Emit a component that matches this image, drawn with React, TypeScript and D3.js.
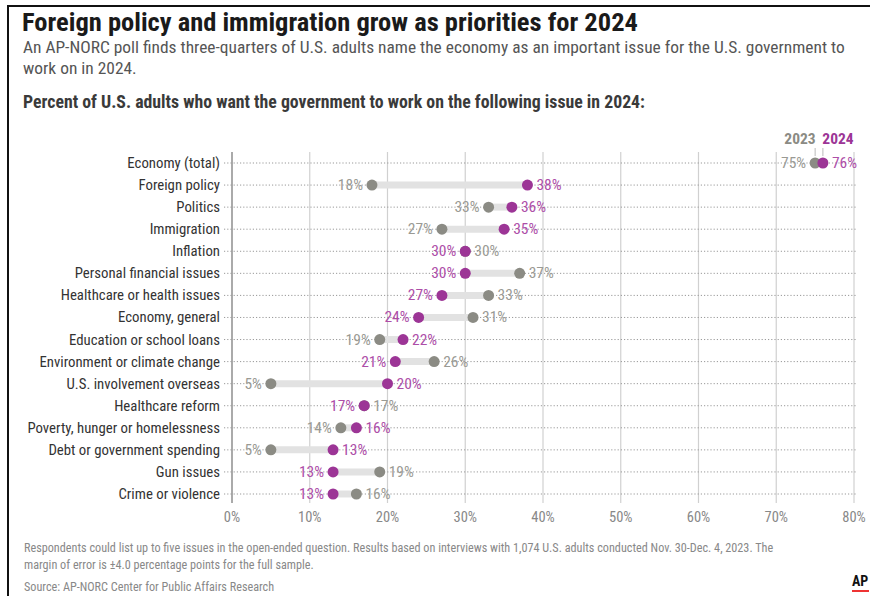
import React from "react";
import * as d3 from "d3";

const categories = [
  "Economy (total)",
  "Foreign policy",
  "Politics",
  "Immigration",
  "Inflation",
  "Personal financial issues",
  "Healthcare or health issues",
  "Economy, general",
  "Education or school loans",
  "Environment or climate change",
  "U.S. involvement overseas",
  "Healthcare reform",
  "Poverty, hunger or homelessness",
  "Debt or government spending",
  "Gun issues",
  "Crime or violence",
];
const values2023 = [75, 18, 33, 27, 30, 37, 33, 31, 19, 26, 5, 17, 14, 5, 19, 16];
const values2024 = [76, 38, 36, 35, 30, 30, 27, 24, 22, 21, 20, 17, 16, 13, 13, 13];
const tickValues = [0, 10, 20, 30, 40, 50, 60, 70, 80];

const FONT = "'Liberation Sans Narrow', 'Roboto Condensed', 'Arial Narrow', Roboto, sans-serif";
const GRAY = "#8b8b84";
const PURPLE = "#9c3596";
const GRAY_TXT = "#9a9a94";
const PURPLE_TXT = "#ad4ea8";

export default function App() {
  const W = 870, H = 596;
  const x = d3.scaleLinear().domain([0, 80]).range([232, 854]);
  const y = d3.scalePoint<string>().domain(categories).range([163, 494]);

  return (
    <svg width={W} height={H} style={{ position: "absolute", left: 0, top: 0, fontFamily: FONT }}>
      <rect width={W} height={H} fill="#fff" />
      <line x1={8} x2={8} y1={5} y2={H} stroke="#111" strokeWidth={2} />
      <line x1={7} x2={W} y1={6} y2={6} stroke="#111" strokeWidth={2} />
      <text x={22} y={31} fontSize={26.5} fontWeight={700} fill="#1a1a1a">
        Foreign policy and immigration grow as priorities for 2024
      </text>
      <text x={23} y={53} fontSize={17.4} fill="#555">
        An AP-NORC poll finds three-quarters of U.S. adults name the economy as an important issue for the U.S. government to
      </text>
      <text x={23} y={74} fontSize={17.4} fill="#555">
        work on in 2024.
      </text>
      <text x={23} y={108} fontSize={17.8} fontWeight={700} fill="#3a3a3a">
        Percent of U.S. adults who want the government to work on the following issue in 2024:
      </text>

      {/* vertical gridlines */}
      {tickValues.map((t) => (
        <line key={"g" + t} x1={x(t)} x2={x(t)} y1={152} y2={503}
          stroke={t === 0 ? "#aaa" : "#d0d0d0"} strokeWidth={t === 0 ? 2 : 1.2} />
      ))}
      {tickValues.map((t) => (
        <text key={"t" + t} x={x(t)} y={522} fontSize={14.5} fill="#888" textAnchor="middle">
          {t}%
        </text>
      ))}

      {/* dotted row lines */}
      {categories.map((c) => (
        <line key={"r" + c} x1={224} x2={856} y1={y(c)} y2={y(c)} stroke="#999" strokeWidth={1} strokeDasharray="1.2,2" />
      ))}

      {/* category labels */}
      {categories.map((c) => (
        <text key={"c" + c} x={220} y={(y(c) as number) + 5} fontSize={14.8} fill="#333" textAnchor="end">
          {c}
        </text>
      ))}

      {/* legend */}
      <text x={800} y={144} fontSize={15.5} fontWeight={700} fill={GRAY} textAnchor="middle">2023</text>
      <text x={838} y={144} fontSize={15.5} fontWeight={700} fill={PURPLE} textAnchor="middle">2024</text>
      <line x1={x(values2023[0])} x2={x(values2023[0])} y1={148} y2={156} stroke="#bbb" strokeWidth={1} />
      <line x1={x(values2024[0])} x2={x(values2024[0])} y1={148} y2={156} stroke="#bbb" strokeWidth={1} />

      {/* dumbbells */}
      {categories.map((c, i) => {
        const a = values2023[i];
        const b = values2024[i];
        const yy = y(c) as number;
        const xa = x(a), xb = x(b);
        const grayLeft = a < b;
        const leftX = Math.min(xa, xb) - 9;
        const rightX = Math.max(xa, xb) + 9;
        return (
          <g key={"d" + c}>
            <line x1={xa} x2={xb} y1={yy} y2={yy} stroke="#e2e2e2" strokeWidth={7} />
            <circle cx={xa} cy={yy} r={5.5} fill={GRAY} />
            <circle cx={xb} cy={yy} r={5.5} fill={PURPLE} />
            <text x={leftX} y={yy + 5} fontSize={15.5} textAnchor="end" fill={grayLeft ? GRAY_TXT : PURPLE_TXT}>
              {grayLeft ? a : b}%
            </text>
            <text x={rightX} y={yy + 5} fontSize={15.5} textAnchor="start" fill={grayLeft ? PURPLE_TXT : GRAY_TXT}>
              {grayLeft ? b : a}%
            </text>
          </g>
        );
      })}

      {/* footer */}
      <text x={24} y={552} fontSize={12.2} fill="#888">
        Respondents could list up to five issues in the open-ended question. Results based on interviews with 1,074 U.S. adults conducted Nov. 30-Dec. 4, 2023. The
      </text>
      <text x={24} y={569} fontSize={12.2} fill="#888">
        margin of error is ±4.0 percentage points for the full sample.
      </text>
      <text x={24} y={591} fontSize={12.2} fill="#888">
        Source: AP-NORC Center for Public Affairs Research
      </text>
      <text x={852} y={586} fontSize={14} fontWeight={700} fill="#111">AP</text>
      <line x1={852} x2={869} y1={591} y2={591} stroke="#e33" strokeWidth={2} />
    </svg>
  );
}
